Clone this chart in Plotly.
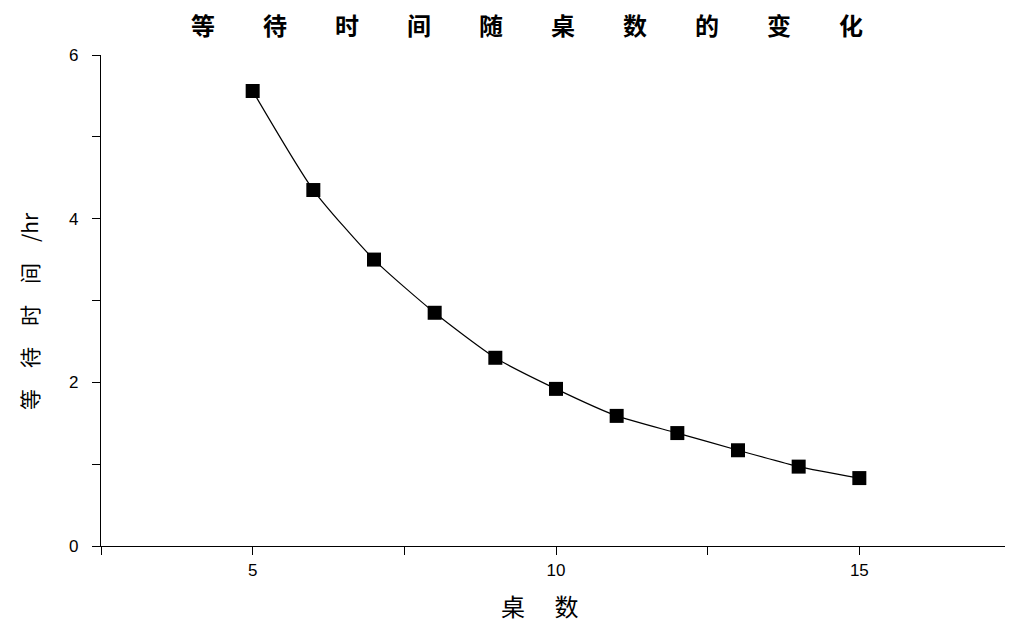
import plotly.graph_objects as go

tables = [5, 6, 7, 8, 9, 10, 11, 12, 13, 14, 15]
wait_hr = [5.56, 4.35, 3.50, 2.85, 2.30, 1.92, 1.59, 1.38, 1.17, 0.97, 0.83]

title_text = "等　　待　　时　　间　　随　　桌　　数　　的　　变　　化"
x_title = "桌 　数"
y_title = "等　待　时　间　/hr"

fig = go.Figure()
fig.add_trace(go.Scatter(
    x=tables, y=wait_hr, mode="lines+markers",
    line=dict(color="black", width=1.2, shape="spline", smoothing=0.6),
    marker=dict(symbol="square", size=14, color="black"),
    showlegend=False,
))

fig.update_layout(
    width=1005, height=615,
    margin=dict(l=93, r=2, t=47, b=77),
    paper_bgcolor="white", plot_bgcolor="white",
    font=dict(family="Liberation Sans", size=17, color="black"),
    annotations=[
        dict(text="<b>" + title_text + "</b>", xref="paper", yref="paper", x=0.468, y=1.062,
             xanchor="center", yanchor="middle", showarrow=False,
             font=dict(family="Noto Sans CJK SC", size=24, color="black")),
        dict(text=x_title, xref="paper", yref="paper", x=0.482, y=-0.122,
             xanchor="center", yanchor="middle", showarrow=False,
             font=dict(family="Noto Sans CJK SC", size=24, color="black")),
        dict(text=y_title, xref="paper", yref="paper", x=-0.079, y=0.479,
             xanchor="center", yanchor="middle", showarrow=False, textangle=-90,
             font=dict(family="Noto Sans CJK SC", size=21, color="black")),
    ],
)
fig.update_xaxes(
    range=[2.5, 17.5], tick0=0, dtick=5, ticks="outside", ticklen=8, tickwidth=1,
    tickcolor="black", showline=True, linecolor="black", linewidth=1.2,
    showgrid=False, zeroline=False,
    minor=dict(dtick=2.5, tick0=0, ticks="outside", ticklen=8, tickcolor="black", showgrid=False),
    tickfont=dict(family="Liberation Sans", size=17),
)
fig.update_yaxes(
    range=[0, 6], tick0=0, dtick=2, ticks="outside", ticklen=8, tickwidth=1,
    tickcolor="black", showline=True, linecolor="black", linewidth=1.2,
    showgrid=False, zeroline=False, ticklabelstandoff=10,
    minor=dict(dtick=1, tick0=0, ticks="outside", ticklen=8, tickcolor="black", showgrid=False),
    tickfont=dict(family="Liberation Sans", size=17),
)

fig.write_html("out.html")
